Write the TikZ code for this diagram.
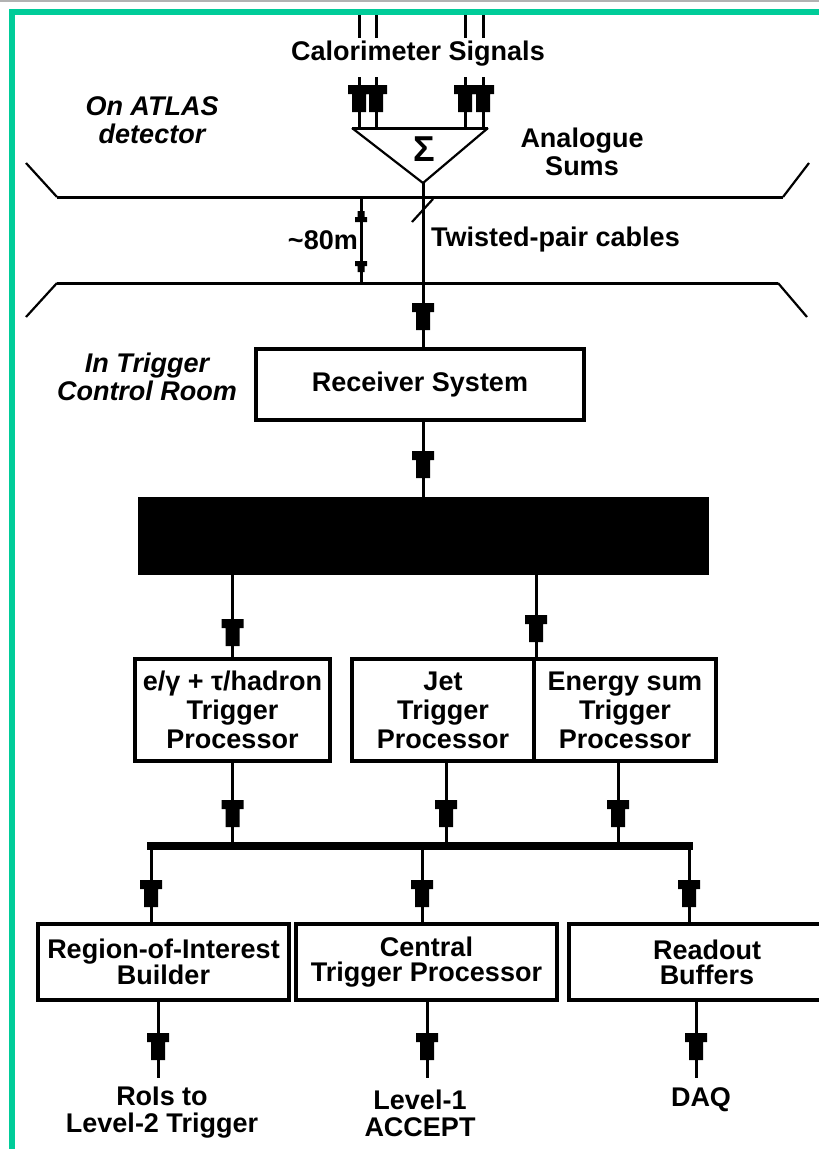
\documentclass[tikz,border=0pt]{standalone}
\usepackage{fontspec}
\setmainfont{Liberation Sans}
\usetikzlibrary{decorations.markings}
\definecolor{framegreen}{RGB}{0,204,153}
\begin{document}
\begin{tikzpicture}[x=1pt,y=-1pt,
  conn/.style={line width=3pt},
  thin/.style={line width=2.2pt},
  tee/.style={postaction={decorate,decoration={markings,mark=at position -#1 with {\fill (0pt,-7pt) -- (-18pt,-7pt) -- (-18pt,-11pt) -- (-27pt,-11pt) -- (-27pt,11pt) -- (-18pt,11pt) -- (-18pt,7pt) -- (0pt,7pt) -- cycle;}}}},
  smalltee/.style={postaction={decorate,decoration={markings,mark=at position -#1 with {\fill (0pt,-3.5pt) -- (-6pt,-3.5pt) -- (-6pt,-6pt) -- (-11pt,-6pt) -- (-11pt,6pt) -- (-6pt,6pt) -- (-6pt,3.5pt) -- (0pt,3.5pt) -- cycle;}}}},
  txt/.style={font=\bfseries\fontsize{27}{28}\selectfont, align=center, inner sep=0pt},
  ital/.style={font=\bfseries\itshape\fontsize{27}{28}\selectfont, align=center, inner sep=0pt},
  box/.style={draw, line width=4pt, inner sep=0pt, align=center, font=\bfseries\fontsize{27}{29}\selectfont},
  lowbox/.style={box, font=\bfseries\fontsize{27}{25}\selectfont}
]
\useasboundingbox (0,0) rectangle (819,1149);
% frame
\draw[line width=1.5pt, gray!60] (0,0.8) -- (819,0.8);
\draw[line width=6pt, framegreen] (12,1149) -- (12,12) -- (819,12);

% calorimeter signals
\node[txt] (calsig) at (418,54) {Calorimeter Signals};
\foreach \x/\n in {359/a,376/b,465/c,483/d}{
  \coordinate (top\n) at (\x,15);
  \coordinate (low\n) at (\x,77);
  \draw[conn] (top\n) -- ++(0,23);
}
\coordinate (barL) at (352,128);
\coordinate (barR) at (488,128);
\coordinate (sumV) at (423,183);
\foreach \n in {a,b,c,d}{
  \draw[conn, tee=16pt] (low\n) -- (low\n |- barL);
}
\draw[conn] (barL) -- (barR);
\draw[thin] (barL) -- (sumV) -- (barR);
\node[font=\bfseries\fontsize{36}{36}\selectfont, inner sep=0pt] (sigma) at (424,149) {Σ};

% detector boundary lines
\draw[thin] (26,163) -- (57,197);
\draw[conn] (57,197) -- (783,197);
\draw[thin] (783,197) -- (809,163);
\draw[thin] (26,317) -- (57,283);
\draw[conn] (57,283) -- (778,283);
\draw[thin] (778,283) -- (807,317);

\node[ital] (onatlas) at (152,120) {On ATLAS\\detector};
\node[txt] (asums) at (582,152) {Analogue\\Sums};

% cable length
\coordinate (dimT) at (361,197);
\coordinate (dimM) at (361,240);
\coordinate (dimB) at (361,283);
\draw[conn, smalltee=14pt] (dimM) -- (dimT);
\draw[conn, smalltee=11pt] (dimM) -- (dimB);
\node[txt, anchor=east] (len) at (358,240) {\textasciitilde 80m};
\node[txt, anchor=west] (twist) at (431,240) {Twisted-pair cables};

% receiver
\node[box, minimum width=328pt, minimum height=71pt] (recv) at (420,384.5) {Receiver System};
\node[ital] (ctrl) at (147,377) {In Trigger\\Control Room};
\draw[conn, tee=17pt] (sumV) -- (sumV |- recv.north);
\draw[thin] (433,199) -- (412,222);

% preprocessor (black box)
\node[draw, fill=black, line width=2pt, minimum width=569pt, minimum height=76pt, inner sep=0pt] (pp) at (423.5,536) {};
\draw[conn, tee=19pt] (recv.south -| sumV) -- (pp.north -| sumV);

% processors
\node[box, minimum width=195pt, minimum height=102pt] (eg) at (232.5,710) {e/γ + τ/hadron\\Trigger\\Processor};
\node[box, minimum width=182pt, minimum height=102pt] (jet) at (443,710) {Jet\\Trigger\\Processor};
\node[box, minimum width=182pt, minimum height=102pt] (esum) at (625,710) {Energy sum\\Trigger\\Processor};
\draw[conn, tee=11pt] (eg.north |- pp.south) -- (eg.north);
\draw[conn, tee=15pt] (jet.north east |- pp.south) -- (jet.north east);

% bus
\coordinate (busL) at (147,846);
\coordinate (busR) at (693,846);
\draw[line width=8pt] (busL) -- (busR);
\draw[conn, tee=19pt] (eg.south) -- (eg.south |- busL);
\draw[conn, tee=19pt] ([xshift=3pt]jet.south) -- ([xshift=3pt]jet.south |- busL);
\draw[conn, tee=19pt] ([xshift=-7pt]esum.south) -- ([xshift=-7pt]esum.south |- busL);

% output boxes
\node[lowbox, minimum width=251pt, minimum height=76pt] (roi) at (163.5,962) {Region-of-Interest\\Builder};
\node[lowbox, minimum width=261pt, minimum height=76pt] (ctp) at (426.5,962) {Central\\Trigger Processor};
\node[lowbox, minimum width=276pt, minimum height=76pt] (rob) at (707,962) {Readout\\Buffers};
\coordinate (d1) at (151,846);
\coordinate (d2) at (422,846);
\coordinate (d3) at (689,846);
\draw[conn, tee=15pt] (d1) -- (d1 |- roi.north);
\draw[conn, tee=15pt] (d2) -- (d2 |- ctp.north);
\draw[conn, tee=15pt] (d3) -- (d3 |- rob.north);

% outputs
\coordinate (o1) at (158,1078);
\coordinate (o2) at (427,1078);
\coordinate (o3) at (696,1078);
\draw[conn, tee=18pt] (o1 |- roi.south) -- (o1);
\draw[conn, tee=18pt] (o2 |- ctp.south) -- (o2);
\draw[conn, tee=18pt] (o3 |- rob.south) -- (o3);
\node[txt, font=\bfseries\fontsize{27}{27}\selectfont] (l2) at (162,1113) {RoIs to\\Level-2 Trigger};
\node[txt, font=\bfseries\fontsize{27}{27}\selectfont] (acc) at (420,1113) {Level-1\\ACCEPT};
\node[txt] (daq) at (701,1100) {DAQ};
\end{tikzpicture}
\end{document}
